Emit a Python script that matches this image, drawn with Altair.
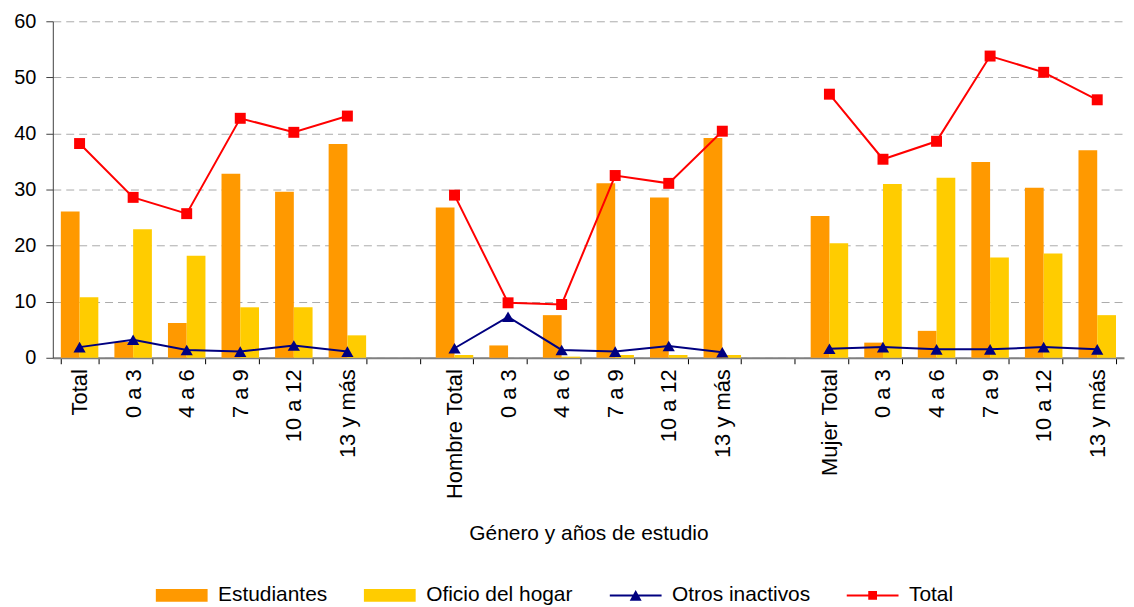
import altair as alt
import pandas as pd

# ---- data ----
series = ["Estudiantes", "Oficio del hogar", "Otros inactivos", "Total"]
colors = ["#FF9900", "#FFCC00", "#000080", "#FF0000"]

groups = ["Total", "Hombre", "Mujer"]
labels_total = ["Total", "0 a 3", "4 a 6", "7 a 9", "10 a 12", "13 y más"]
labels_hombre = ["Hombre Total", "0 a 3", "4 a 6", "7 a 9", "10 a 12", "13 y más"]
labels_mujer = ["Mujer Total", "0 a 3", "4 a 6", "7 a 9", "10 a 12", "13 y más"]

estudiantes_total = [26.1, 2.8, 6.2, 32.8, 29.6, 38.1]
oficio_total = [10.8, 22.9, 18.2, 9.0, 9.0, 4.0]
otros_total = [1.9, 3.2, 1.4, 1.1, 2.2, 1.1]
total_total = [38.2, 28.6, 25.7, 42.7, 40.2, 43.1]

estudiantes_hombre = [26.8, 2.2, 7.6, 31.1, 28.6, 39.2]
oficio_hombre = [0.5, 0.0, 0.2, 0.5, 0.5, 0.5]
otros_hombre = [1.7, 7.3, 1.4, 1.1, 2.1, 1.0]
total_hombre = [29.0, 9.8, 9.5, 32.5, 31.1, 40.4]

estudiantes_mujer = [25.3, 2.7, 4.8, 34.9, 30.3, 37.0]
oficio_mujer = [20.4, 31.0, 32.1, 17.9, 18.6, 7.6]
otros_mujer = [1.6, 1.9, 1.5, 1.5, 1.9, 1.5]
total_mujer = [47.0, 35.4, 38.6, 53.8, 50.9, 46.0]

# ---- build long table ----
blocks = [
    ("Total", labels_total, [estudiantes_total, oficio_total, otros_total, total_total]),
    ("Hombre", labels_hombre, [estudiantes_hombre, oficio_hombre, otros_hombre, total_hombre]),
    ("Mujer", labels_mujer, [estudiantes_mujer, oficio_mujer, otros_mujer, total_mujer]),
]
rows = []
slot_order = []
for gi, (g, labs, vals) in enumerate(blocks):
    if gi > 0:
        slot_order.append(f"gap{gi}|")
    for i, lab in enumerate(labs):
        key = f"{g}|{lab}"
        slot_order.append(key)
        for s, v in zip(series, vals):
            rows.append({"key": key, "group": g, "series": s, "value": v[i]})
df = pd.DataFrame(rows)

FONT = "Liberation Sans"

x_enc = alt.X(
    "key:N",
    scale=alt.Scale(domain=slot_order, paddingInner=0.3, paddingOuter=0.15),
    axis=alt.Axis(
        labelExpr="split(datum.value, '|')[1]",
        labelAngle=-90,
        labelAlign="right",
        labelBaseline="middle",
        labelFontSize=22,
        labelColor="#000000",
        labelPadding=5,
        tickBand="extent",
        tickSize=6,
        tickColor="#000000",
        domainColor="#808080",
        domainWidth=2,
        titleFontSize=21,
        titleFontWeight="normal",
        titleColor="#000000",
        titlePadding=24,
        labelLimit=0,
    ),
    title="Género y años de estudio",
)
y_enc = alt.Y(
    "value:Q",
    scale=alt.Scale(domain=[0, 60]),
    axis=alt.Axis(
        values=[0, 10, 20, 30, 40, 50, 60],
        grid=True,
        gridDash=[8, 5],
        gridColor="#AAAAAA",
        domainColor="#404040",
        tickColor="#404040",
        tickSize=7,
        labelPadding=10,
        labelFontSize=20,
        labelColor="#000000",
    ),
    title=None,
)

base = alt.Chart(df)

bars = base.transform_filter(
    alt.FieldOneOfPredicate(field="series", oneOf=series[:2])
).mark_bar().encode(
    x=x_enc,
    y=y_enc,
    xOffset=alt.XOffset("series:N", scale=alt.Scale(domain=series[:2])),
    fill=alt.condition(alt.datum.series == series[0], alt.value(colors[0]), alt.value(colors[1])),
)

line_otros = base.transform_filter(alt.datum.series == series[2]).mark_line(
    strokeWidth=2, color=colors[2]
).encode(x=x_enc, y=y_enc, detail="group:N")

line_total = base.transform_filter(alt.datum.series == series[3]).mark_line(
    strokeWidth=2, color=colors[3]
).encode(x=x_enc, y=y_enc, detail="group:N")

tri = base.transform_filter(alt.datum.series == series[2]).mark_point(
    shape="triangle-up", filled=True, size=150, opacity=1, strokeWidth=0, color=colors[2]
).encode(x=x_enc, y=y_enc)

sq = base.transform_filter(alt.datum.series == series[3]).mark_point(
    shape="square", filled=True, size=121, opacity=1, strokeWidth=0, color=colors[3]
).encode(x=x_enc, y=y_enc)

# legend symbols: swatches and line+marker glyphs (r = 8 px per unit)
legend_paths = [
    "M-5.5,-0.8H1V0.8H-5.5Z",
    "M-5.5,-0.8H1V0.8H-5.5Z",
    "M-5.5,-0.12H1V0.12H-5.5Z M-3.0,0.65L-2.25,-0.7L-1.5,0.65Z",
    "M-5.5,-0.12H1V0.12H-5.5Z M-2.8,-0.55H-1.7V0.55H-2.8Z",
]
leg = alt.Legend(
    title=None,
    orient="none",
    legendX=137,
    legendY=566,
    direction="horizontal",
    symbolSize=256,
    symbolStrokeWidth=0,
    labelFontSize=21,
    labelFont=FONT,
    labelColor="#000000",
    labelOffset=8,
    columnPadding=36,
    labelLimit=0,
)
legend_layer = base.transform_filter("false").mark_point(filled=True, opacity=1).encode(
    x=x_enc, y=y_enc,
    color=alt.Color("series:N", scale=alt.Scale(domain=series, range=colors), legend=leg),
    shape=alt.Shape("series:N", scale=alt.Scale(domain=series, range=legend_paths), legend=leg),
)

chart = alt.layer(bars, line_otros, line_total, tri, sq, legend_layer).properties(
    width=1076,
    height=338,
    padding={"left": 5, "right": 2, "top": 2, "bottom": 0},
).configure(font=FONT).configure_view(stroke=None)

chart.save("out.html", embed_options={"renderer": "svg", "actions": False})
